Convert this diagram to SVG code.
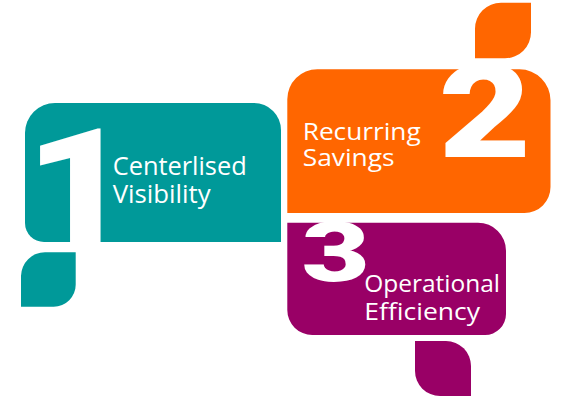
<svg xmlns="http://www.w3.org/2000/svg" width="574" height="400" viewBox="0 0 574 400">
<style>
.teal{fill:#009999}
.orange{fill:#ff6600}
.purple{fill:#990066}
.lbl{fill:#ffffff;font-family:"Open Sans","Noto Sans","Liberation Sans",sans-serif}
.num{fill:#ffffff;font-family:Roboto,"Liberation Sans",sans-serif;font-weight:900;font-size:100px}
</style>
<rect width="574" height="400" fill="#ffffff"/>
<g id="connectors"/>
<g id="node1">
<path class="teal" d="M55 103H254A27 27 0 0 1 281 130V242H44A19 19 0 0 1 25 223V133A30 30 0 0 1 55 103Z"/>
<path class="teal" d="M21 306.7V276A24 24 0 0 1 45 252.3H75.7V284.7A22 22 0 0 1 53.7 306.7Z"/>
<text class="num" transform="translate(25,242) scale(1.85,1.59)">1</text>
<text class="lbl" x="112.7" y="175" font-size="25.5" textLength="134" lengthAdjust="spacingAndGlyphs">Centerlised</text>
<text class="lbl" x="112.7" y="203.3" font-size="25.5" textLength="98" lengthAdjust="spacingAndGlyphs">Visibility</text>
</g>
<g id="node2">
<path class="orange" d="M317.3 69.3H519.5A31 31 0 0 1 550.5 100.3V187A26 26 0 0 1 524.5 213H287.3V99.3A30 30 0 0 1 317.3 69.3Z"/>
<path class="orange" d="M475 58.3V28.7A26 26 0 0 1 501 2.7H531V32.3A26 26 0 0 1 505 58.3Z"/>
<text class="num" transform="translate(438.5,156.7) scale(1.6,1.3)">2</text>
<text class="lbl" x="302.7" y="139.5" font-size="23.5" textLength="118" lengthAdjust="spacingAndGlyphs">Recurring</text>
<text class="lbl" x="302.7" y="165.5" font-size="23.5" textLength="92" lengthAdjust="spacingAndGlyphs">Savings</text>
</g>
<g id="node3">
<path class="purple" d="M287.3 222.7H478A28 28 0 0 1 506 250.7V314A21 21 0 0 1 485 335H312.3A25 25 0 0 1 287.3 310Z"/>
<path class="purple" d="M415 341H446A25 25 0 0 1 471 366V396H440A25 25 0 0 1 415 371Z"/>
<text class="num" transform="translate(301.5,281) scale(1.18,0.84)">3</text>
<text class="lbl" x="364.3" y="291.7" font-size="24" textLength="135.7" lengthAdjust="spacingAndGlyphs">Operational</text>
<text class="lbl" x="364.3" y="320" font-size="24" textLength="115.7" lengthAdjust="spacingAndGlyphs">Efficiency</text>
</g>
</svg>
